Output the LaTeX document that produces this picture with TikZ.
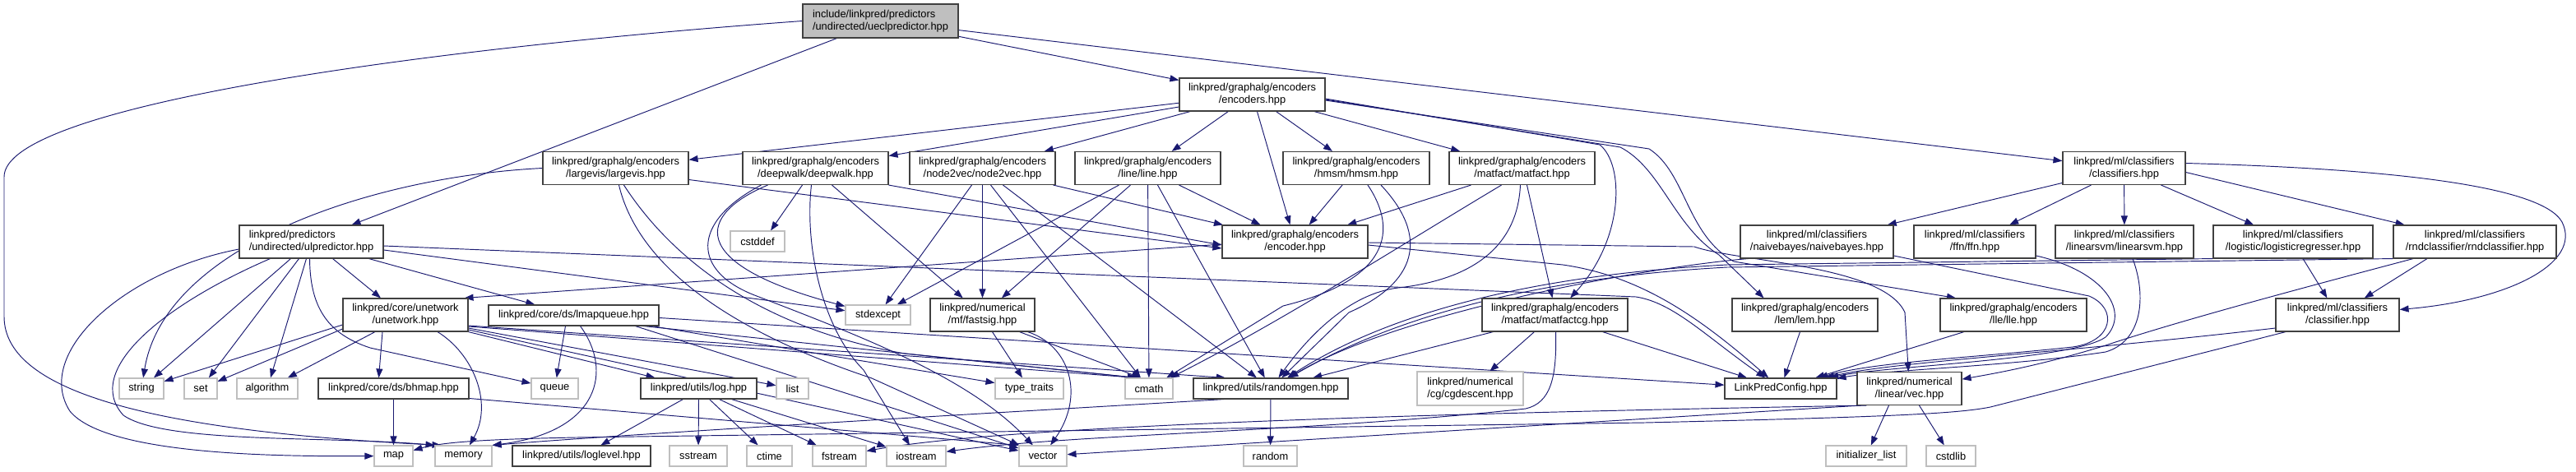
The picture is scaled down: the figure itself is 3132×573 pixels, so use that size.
\documentclass[tikz,border=0pt]{standalone}
\usepackage{fontspec}
\setmainfont{Liberation Sans}
\usetikzlibrary{arrows.meta}
\definecolor{edgecol}{HTML}{191970}
\definecolor{bord}{HTML}{404040}
\definecolor{gbord}{HTML}{BFBFBF}
\newcommand{\nfont}{\fontsize{12.85}{15}\selectfont}
\pgfdeclarelayer{bg}
\pgfsetlayers{bg,main}
\tikzset{
 bx/.style={draw=bord, line width=1.1pt, fill=white, inner sep=0pt, align=center, font=\nfont},
 gx/.style={bx, draw=gbord},
 two/.style={minimum height=40pt},
 one/.style={minimum height=25pt},
 edg/.style={draw=edgecol, line width=0.95pt, -{Triangle[length=11pt,width=8pt]}},
}
\begin{document}
\begin{tikzpicture}[x=1pt,y=-1pt]
\useasboundingbox (0,0) rectangle (3132,573);
% row 0,1
\node[bx,fill=gbord,minimum width=189pt,minimum height=41pt,align=left] (U0) at (1070.5,25.5) {include/linkpred/predictors\\/undirected/ueclpredictor.hpp};
\node[bx,two,minimum width=177pt] (enc) at (1522.5,115) {linkpred/graphalg/encoders\\/encoders.hpp};
% row 2
\node[bx,two,minimum width=177pt] (largevis) at (748.5,204.5) {linkpred/graphalg/encoders\\/largevis/largevis.hpp};
\node[bx,two,minimum width=177pt] (deepwalk) at (991.5,204.5) {linkpred/graphalg/encoders\\/deepwalk/deepwalk.hpp};
\node[bx,two,minimum width=177pt] (node2vec) at (1194.5,204.5) {linkpred/graphalg/encoders\\/node2vec/node2vec.hpp};
\node[bx,two,minimum width=177pt] (ln) at (1395.5,204.5) {linkpred/graphalg/encoders\\/line/line.hpp};
\node[bx,two,minimum width=178pt] (hmsm) at (1649,204.5) {linkpred/graphalg/encoders\\/hmsm/hmsm.hpp};
\node[bx,two,minimum width=177pt] (matfact) at (1850.5,204.5) {linkpred/graphalg/encoders\\/matfact/matfact.hpp};
\node[bx,two,minimum width=149pt] (classifiers) at (2582.5,204.5) {linkpred/ml/classifiers\\/classifiers.hpp};
% row 3
\node[bx,two,minimum width=175pt,align=left] (ulpred) at (378.5,294) {linkpred/predictors\\/undirected/ulpredictor.hpp};
\node[gx,one,minimum width=66pt] (cstddef) at (921,293.5) {cstddef};
\node[bx,two,minimum width=177pt] (encoder) at (1574.5,294) {linkpred/graphalg/encoders\\/encoder.hpp};
\node[bx,two,minimum width=186pt] (naivebayes) at (2209,294) {linkpred/ml/classifiers\\/naivebayes/naivebayes.hpp};
\node[bx,two,minimum width=148pt] (ffn) at (2401,294) {linkpred/ml/classifiers\\/ffn/ffn.hpp};
\node[bx,two,minimum width=168pt] (linearsvm) at (2583,294) {linkpred/ml/classifiers\\/linearsvm/linearsvm.hpp};
\node[bx,two,minimum width=194pt] (logistic) at (2788,294) {linkpred/ml/classifiers\\/logistic/logisticregresser.hpp};
\node[bx,two,minimum width=198pt] (rnd) at (3009,294) {linkpred/ml/classifiers\\/rndclassifier/rndclassifier.hpp};
% row 4
\node[bx,two,minimum width=152pt] (unetwork) at (493,383) {linkpred/core/unetwork\\/unetwork.hpp};
\node[bx,one,minimum width=207pt] (lmapqueue) at (697.5,383.5) {linkpred/core/ds/lmapqueue.hpp};
\node[gx,minimum height=24pt,minimum width=79pt] (stdexcept) at (1067.5,383) {stdexcept};
\node[bx,two,minimum width=127pt] (fastsig) at (1194.5,383) {linkpred/numerical\\/mf/fastsig.hpp};
\node[bx,two,minimum width=177pt] (matfactcg) at (1890.5,383) {linkpred/graphalg/encoders\\/matfact/matfactcg.hpp};
\node[bx,two,minimum width=177pt] (lem) at (2194.5,383) {linkpred/graphalg/encoders\\/lem/lem.hpp};
\node[bx,two,minimum width=178pt] (lle) at (2448,383) {linkpred/graphalg/encoders\\/lle/lle.hpp};
\node[bx,two,minimum width=150pt] (classifier) at (2842,383) {linkpred/ml/classifiers\\/classifier.hpp};
% row 5
\node[gx,one,minimum width=54pt] (string) at (172,472.5) {string};
\node[gx,one,minimum width=40pt] (set) at (244,472.5) {set};
\node[gx,one,minimum width=74pt] (algorithm) at (325,472.5) {algorithm};
\node[bx,one,minimum width=183pt] (bhmap) at (478.5,472.5) {linkpred/core/ds/bhmap.hpp};
\node[gx,one,minimum width=57pt] (queue) at (674.5,472.5) {queue};
\node[bx,one,minimum width=141pt] (log) at (849.5,472.5) {linkpred/utils/log.hpp};
\node[gx,one,minimum width=39pt] (list) at (963.5,472.5) {list};
\node[gx,one,minimum width=83pt] (typetraits) at (1251.5,472.5) {type\_traits};
\node[gx,one,minimum width=58pt] (cmath) at (1397,472.5) {cmath};
\node[bx,one,minimum width=188pt] (randomgen) at (1545,472.5) {linkpred/utils/randomgen.hpp};
\node[gx,minimum height=41pt,minimum width=129pt] (cgdescent) at (1787.5,472.5) {linkpred/numerical\\/cg/cgdescent.hpp};
\node[bx,one,minimum width=136pt] (LPC) at (2165,472.5) {LinkPredConfig.hpp};
\node[bx,two,minimum width=127pt] (vec) at (2321.5,472.5) {linkpred/numerical\\/linear/vec.hpp};
% row 6
\node[gx,one,minimum width=47pt] (map) at (478.5,554.5) {map};
\node[gx,one,minimum width=69pt] (memory) at (563.5,554.5) {memory};
\node[bx,one,minimum width=168pt] (loglevel) at (707,554.5) {linkpred/utils/loglevel.hpp};
\node[gx,one,minimum width=70pt] (sstream) at (849,554.5) {sstream};
\node[gx,one,minimum width=55pt] (ctime) at (935.5,554.5) {ctime};
\node[gx,one,minimum width=65pt] (fstream) at (1020.5,554.5) {fstream};
\node[gx,one,minimum width=72pt] (iostream) at (1114,554.5) {iostream};
\node[gx,one,minimum width=58pt] (vector) at (1268,554.5) {vector};
\node[gx,one,minimum width=65pt] (random) at (1544.5,554.5) {random};
\node[gx,one,minimum width=98pt] (initlist) at (2269,554.5) {initializer\_list};
\node[gx,one,minimum width=60pt] (cstdlib) at (2372,554.5) {cstdlib};

\begin{pgfonlayer}{bg}
% ueclpredictor
\draw[edg] ([xshift=-53pt]U0.south) -- ([xshift=49pt]ulpred.north);
\draw[edg] (U0) -- (enc);
\draw[edg] (U0) -- (classifiers);
\draw[edg] (U0.west) .. controls (500,60) and (5,130) .. (5,215) -- (5,385) .. controls (5,480) and (200,525) .. ([xshift=8pt]memory.north west);
% encoders.hpp
\draw[edg] (enc) -- (largevis);
\draw[edg] (enc) -- (deepwalk);
\draw[edg] (enc) -- (node2vec);
\draw[edg] (enc) -- (ln);
\draw[edg] (enc) -- (encoder);
\draw[edg] (enc) -- (hmsm);
\draw[edg] (enc) -- (matfact);
\draw[edg] ([yshift=-5pt]enc.east) -- (1945,176) .. controls (1975,200) and (1975,290) .. (matfactcg);
\draw[edg] ([yshift=-6pt]enc.east) -- (1970,179) .. controls (2020,205) and (2035,275) .. (2090,310) -- ([xshift=-50pt]lem.north);
\draw[edg] ([yshift=-7pt]enc.east) -- (2005,181) .. controls (2050,210) and (2050,285) .. (2108,318) -- ([xshift=-70pt]lle.north);
% largevis
\draw[edg] (largevis.west) .. controls (450,215) and (200,300) .. (string);
\draw[edg] ([yshift=-14pt]largevis.east) -- ([yshift=-8pt]encoder.west);
\draw[edg] ([xshift=4pt]largevis.south) .. controls (775,320) and (880,400) .. (1060,460) -- (vector);
\draw[edg] ([xshift=10pt]largevis.south) .. controls (820,320) and (930,400) .. (1100,430) -- ([xshift=-15pt]cmath.north);
% deepwalk
\draw[edg] ([xshift=-16pt]deepwalk.south) -- ([xshift=16pt]cstddef.north);
\draw[edg] ([xshift=20pt]deepwalk.south) -- (fastsig);
\draw[edg] (deepwalk.south east) -- ([yshift=-4pt]encoder.west);
\draw[edg] ([xshift=-58pt]deepwalk.south) .. controls (850,260) and (830,320) .. (stdexcept);
\draw[edg] ([xshift=-66pt]deepwalk.south) .. controls (840,270) and (840,330) .. (920,360) .. controls (1050,410) and (1180,460) .. (vector);
\draw[edg] ([xshift=-5pt]deepwalk.south) .. controls (978,300) and (1000,400) .. (1050,450) -- (iostream);
% node2vec
\draw[edg] ([xshift=-13pt]node2vec.south) -- (stdexcept);
\draw[edg] (node2vec) -- (fastsig);
\draw[edg] ([xshift=10pt]node2vec.south) -- (cmath);
\draw[edg] ([xshift=25pt]node2vec.south) -- (randomgen);
\draw[edg] ([xshift=-3pt]node2vec.south east) -- (encoder);
% line
\draw[edg] ([xshift=-35pt]ln.south) -- (stdexcept);
\draw[edg] ([xshift=-21pt]ln.south) -- (fastsig);
\draw[edg] (ln) -- (cmath);
\draw[edg] ([xshift=12pt]ln.south) -- (randomgen);
\draw[edg] ([xshift=38pt]ln.south) -- (encoder);
% hmsm
\draw[edg] ([xshift=-17pt]hmsm.south) -- (encoder);
\draw[edg] ([xshift=14pt]hmsm.south) .. controls (1700,280) and (1690,340) .. (1560,372) -- (cmath);
\draw[edg] ([xshift=30pt]hmsm.south) .. controls (1740,290) and (1720,345) .. (1640,380) -- (randomgen);
% matfact
\draw[edg] ([xshift=-62pt]matfact.south) -- (encoder);
\draw[edg] ([xshift=-25pt]matfact.south) .. controls (1700,300) and (1560,390) .. (cmath);
\draw[edg] ([xshift=-2pt]matfact.south) .. controls (1845,300) and (1790,340) .. (1700,350) .. controls (1640,357) and (1590,410) .. (randomgen);
\draw[edg] ([xshift=6pt]matfact.south) -- ([xshift=-3pt]matfactcg.north);
% classifiers
\draw[edg] (classifiers) -- (naivebayes);
\draw[edg] ([xshift=-40pt]classifiers.south) -- (ffn);
\draw[edg] (classifiers) -- (linearsvm);
\draw[edg] ([xshift=45pt]classifiers.south) -- (logistic);
\draw[edg] ([yshift=-5pt]classifiers.east) -- (rnd);
\draw[edg] ([yshift=6pt]classifiers.east) .. controls (2900,205) and (3090,225) .. (3115,270) .. controls (3140,320) and (3050,365) .. (classifier);
% ulpredictor
\draw[edg] ([yshift=-9pt]ulpred.west) .. controls (150,330) and (40,430) .. (85,500) .. controls (130,555) and (350,555) .. (map);
\draw[edg] ([xshift=-50pt]ulpred.south) .. controls (200,370) and (100,450) .. (150,505) .. controls (200,540) and (400,530) .. (memory.north west);
\draw[edg] ([xshift=-25pt]ulpred.south) -- (string);
\draw[edg] ([xshift=-15pt]ulpred.south) -- (set);
\draw[edg] ([xshift=-6pt]ulpred.south) -- (algorithm);
\draw[edg] ([xshift=26pt]ulpred.south) -- ([xshift=-30pt]unetwork.north);
\draw[edg] ([xshift=-2pt]ulpred.south) .. controls (377,370) and (395,405) .. (450,423) -- (queue);
\draw[edg] ([xshift=70pt]ulpred.south) -- (lmapqueue);
\draw[edg] ([yshift=-10pt]ulpred.east) -- (stdexcept);
\draw[edg] ([yshift=-5pt]ulpred.east) -- (1989,361) .. controls (2035,368) and (2075,410) .. (LPC);
% encoder.hpp
\draw[edg] ([yshift=-3pt]encoder.west) -- ([xshift=-5pt]unetwork.north east);
\draw[edg] ([yshift=-4pt]encoder.east) -- (1900,322) .. controls (1990,335) and (2060,380) .. (LPC);
\draw[edg] ([yshift=-1pt]encoder.east) -- (2060,300) .. controls (2110,318) and (2290,322) .. (2316,380) -- (vec);
% classifiers row
\draw[edg] ([yshift=-17pt]naivebayes.east) -- (2540,360) .. controls (2575,375) and (2570,415) .. (2520,422) .. controls (2400,435) and (2280,440) .. (LPC);
\draw[edg] ([xshift=10pt]naivebayes.south west) .. controls (2000,325) and (1700,380) .. (randomgen);
\draw[edg] ([yshift=-17pt]ffn.east) .. controls (2560,330) and (2590,380) .. (2560,410) .. controls (2520,438) and (2290,445) .. (LPC);
\draw[edg] ([xshift=10pt]linearsvm.south) .. controls (2610,360) and (2605,415) .. (2560,428) .. controls (2450,445) and (2290,450) .. (LPC);
\draw[edg] ([xshift=12pt]logistic.south) -- (classifier);
\draw[edg] (logistic.south west) -- (2100,322) .. controls (1850,335) and (1680,385) .. (randomgen);
\draw[edg] ([xshift=-58pt]rnd.south) -- (classifier);
\draw[edg] (rnd.south west) -- (2100,325) .. controls (1860,338) and (1690,388) .. (randomgen);
\draw[edg] ([xshift=-75pt]rnd.south) .. controls (2800,350) and (2650,390) .. (2560,420) .. controls (2480,445) and (2420,455) .. (vec);
% unetwork
\draw[edg] ([yshift=-12pt]unetwork.west) -- (string);
\draw[edg] ([yshift=-17pt]unetwork.west) -- (set);
\draw[edg] ([xshift=-37pt]unetwork.south) -- (algorithm);
\draw[edg] ([xshift=-28pt]unetwork.south) -- ([xshift=-18pt]bhmap.north);
\draw[edg] ([xshift=39pt]unetwork.south) .. controls (575,430) and (600,490) .. (memory);
\draw[edg] (unetwork.south east) -- (log);
\draw[edg] ([yshift=-16pt]unetwork.east) -- (list);
\draw[edg] ([yshift=-14pt]unetwork.east) -- ([xshift=-15pt]cmath.north);
\draw[edg] ([yshift=-13pt]unetwork.east) -- ([xshift=-55pt]randomgen.north);
\draw[edg] ([yshift=-18pt]unetwork.east) -- (vector);
% lmapqueue
\draw[edg] ([xshift=-10pt]lmapqueue.south) -- (queue);
\draw[edg] ([xshift=8pt]lmapqueue.south) .. controls (745,450) and (730,525) .. (memory.north east);
\draw[edg] ([yshift=-3pt]lmapqueue.east) -- (LPC);
\draw[edg] ([xshift=95pt]lmapqueue.south) -- (typetraits);
\draw[edg] ([xshift=85pt]lmapqueue.south) -- ([xshift=-15pt]cmath.north);
\draw[edg] ([xshift=75pt]lmapqueue.south) -- (vector);
% fastsig
\draw[edg] ([xshift=12pt]fastsig.south) -- (typetraits);
\draw[edg] ([xshift=45pt]fastsig.south) -- ([xshift=-10pt]cmath.north);
\draw[edg] ([xshift=55pt]fastsig.south) .. controls (1300,420) and (1320,480) .. (vector);
% matfactcg
\draw[edg] ([xshift=-75pt]matfactcg.south) -- (randomgen);
\draw[edg] ([xshift=-25pt]matfactcg.south) -- (cgdescent);
\draw[edg] ([xshift=1pt]matfactcg.south) .. controls (1893,460) and (1885,490) .. (1855,497) .. controls (1600,525) and (1300,528) .. (iostream);
\draw[edg] ([xshift=58pt]matfactcg.south) -- (LPC);
% lem, lle, classifier
\draw[edg] ([xshift=-6pt]lem.south) -- (LPC);
\draw[edg] ([xshift=-60pt]lle.south) -- (LPC);
\draw[edg] ([yshift=-16pt]classifier.west) .. controls (2500,430) and (2300,440) .. (LPC);
\draw[edg] ([xshift=-63pt]classifier.south) -- (2420,495) .. controls (2380,503) and (2300,507) .. (2000,514) -- (700,532) .. controls (600,534) and (540,537) .. (map);
% bhmap, log, randomgen, vec
\draw[edg] (bhmap) -- (map);
\draw[edg] ([yshift=-12pt]bhmap.east) -- (vector.north west);
\draw[edg] ([xshift=-19pt]log.south) -- (loglevel);
\draw[edg] (log.south) -- (sstream);
\draw[edg] ([xshift=13pt]log.south) -- (ctime);
\draw[edg] ([xshift=25pt]log.south) -- (fstream);
\draw[edg] ([xshift=40pt]log.south) -- (iostream);
\draw[edg] (randomgen) -- (random);
\draw[edg] ([xshift=-57pt]randomgen.south) .. controls (1300,497) and (800,525) .. (memory.north east);
\draw[edg] ([xshift=-25pt]vec.south) -- (initlist);
\draw[edg] ([xshift=12pt]vec.south) -- (cstdlib);
\draw[edg] ([xshift=5pt]vec.south west) -- (vector);
\draw[edg] ([xshift=12pt]vec.south west) .. controls (1600,505) and (1200,522) .. (fstream);
\end{pgfonlayer}
\end{tikzpicture}
\end{document}
